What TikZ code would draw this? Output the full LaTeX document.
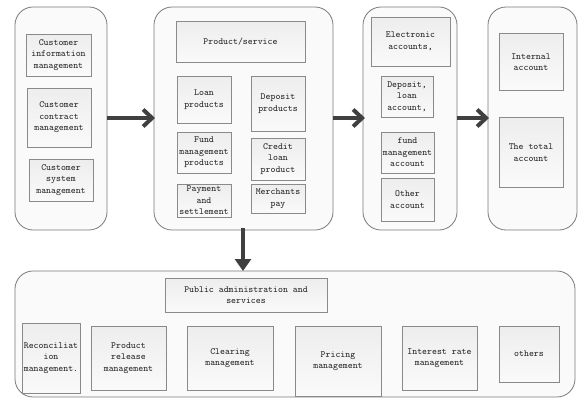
\documentclass[tikz,border=0pt]{standalone}
\usepackage{fontspec}
\usetikzlibrary{arrows.meta}
\definecolor{boxline}{HTML}{8A8A8A}
\definecolor{contline}{HTML}{7A7A7A}
\definecolor{arrowc}{HTML}{404040}
\tikzset{
  cont/.style={draw=contline, line width=0.8pt, fill=gray!4, rounded corners=18pt},
  bx/.style={draw=boxline, line width=0.7pt, top color=gray!14, bottom color=gray!4},
  lbl/.style={font=\ttfamily\fontsize{9.4}{11.5}\selectfont, align=center, text=black!85, inner sep=0pt},
  barb/.style={draw=arrowc, line width=4pt, -{Straight Barb[length=9pt,width=17pt,line width=4pt]}},
  tri/.style={draw=arrowc, line width=4pt, -{Triangle[length=12pt,width=16pt]}, arrowc}
}
\begin{document}
\begin{tikzpicture}[x=1pt,y=-1pt]
\useasboundingbox (0,0) rectangle (582,400);
% containers
\draw[cont] (15,7) rectangle (107,230);
\draw[cont] (154,7) rectangle (333,230);
\draw[cont] (363,7) rectangle (457,230);
\draw[cont] (488,7) rectangle (577,230);
\draw[cont] (15,271) rectangle (575,397);
\coordinate (c1r) at (107,118);
\coordinate (c2l) at (154,118);
\coordinate (c2r) at (333,118);
\coordinate (c3l) at (363,118);
\coordinate (c3r) at (457,118);
\coordinate (c4l) at (488,118);
\coordinate (c2b) at (243,228);
\coordinate (c5t) at (243,271);
% column 1
\draw[bx] (26,34) rectangle (91,76); \node[lbl] (ci) at (58.5,55) {Customer\\information\\management};
\draw[bx] (27,88) rectangle (91,147); \node[lbl] (cc) at (59,117.5) {Customer\\contract\\management};
\draw[bx] (29,159) rectangle (93,201); \node[lbl] (cs) at (61,180) {Customer\\system\\management};
% column 2
\draw[bx] (176,21) rectangle (305,62); \node[lbl] (ps) at (240.5,41.5) {Product/service};
\draw[bx] (177,76) rectangle (231,123); \node[lbl] (lp) at (204,99.5) {Loan\\products};
\draw[bx] (251,76) rectangle (305,131); \node[lbl] (dp) at (278,103.5) {Deposit\\products};
\draw[bx] (177,132) rectangle (231,173); \node[lbl] (fm) at (204,152.5) {Fund\\management\\products};
\draw[bx] (251,138) rectangle (305,180); \node[lbl] (cl) at (278,159) {Credit\\loan\\product};
\draw[bx] (177,184) rectangle (231,217); \node[lbl] (pa) at (204,200.5) {Payment\\and\\settlement};
\draw[bx] (251,184) rectangle (305,213); \node[lbl] (mp) at (278,198.5) {Merchants\\pay};
% column 3
\draw[bx] (371,17) rectangle (450,66); \node[lbl] (ea) at (410.5,41.5) {Electronic\\accounts,};
\draw[bx] (381,76) rectangle (433,117); \node[lbl] (dl) at (407,96.5) {Deposit,\\loan\\account,};
\draw[bx] (381,132) rectangle (434,173); \node[lbl] (fa) at (407.5,152.5) {fund\\management\\account};
\draw[bx] (381,178) rectangle (434,221); \node[lbl] (oa) at (407.5,199.5) {Other\\account};
% column 4
\draw[bx] (499,33) rectangle (563,90); \node[lbl] (ia) at (531,62) {Internal\\account};
\draw[bx] (499,117) rectangle (563,187); \node[lbl] (ta) at (531,152.5) {The total\\account};
% bottom
\draw[bx] (165,278) rectangle (327,312); \node[lbl] (pub) at (246,295) {Public administration and\\services};
\draw[bx] (22,323) rectangle (80,393); \node[lbl] (rec) at (51,358) {Reconciliat\\ion\\management.};
\draw[bx] (91,326) rectangle (166,390); \node[lbl] (prm) at (128.5,358) {Product\\release\\management};
\draw[bx] (187,326) rectangle (273,390); \node[lbl] (clm) at (230,358) {Clearing\\management};
\draw[bx] (295,326) rectangle (381,396); \node[lbl] (prc) at (338,361) {Pricing\\management};
\draw[bx] (402,326) rectangle (477,390); \node[lbl] (irm) at (439.5,358) {Interest rate\\management};
\draw[bx] (499,326) rectangle (559,382); \node[lbl] (oth) at (529,354) {others};
% arrows
\draw[barb] (c1r) -- ([xshift=1pt]c2l);
\draw[barb] (c2r) -- ([xshift=2pt]c3l);
\draw[barb] (c3r) -- ([xshift=1pt]c4l);
\draw[tri] (c2b) -- (c5t);
\end{tikzpicture}
\end{document}
